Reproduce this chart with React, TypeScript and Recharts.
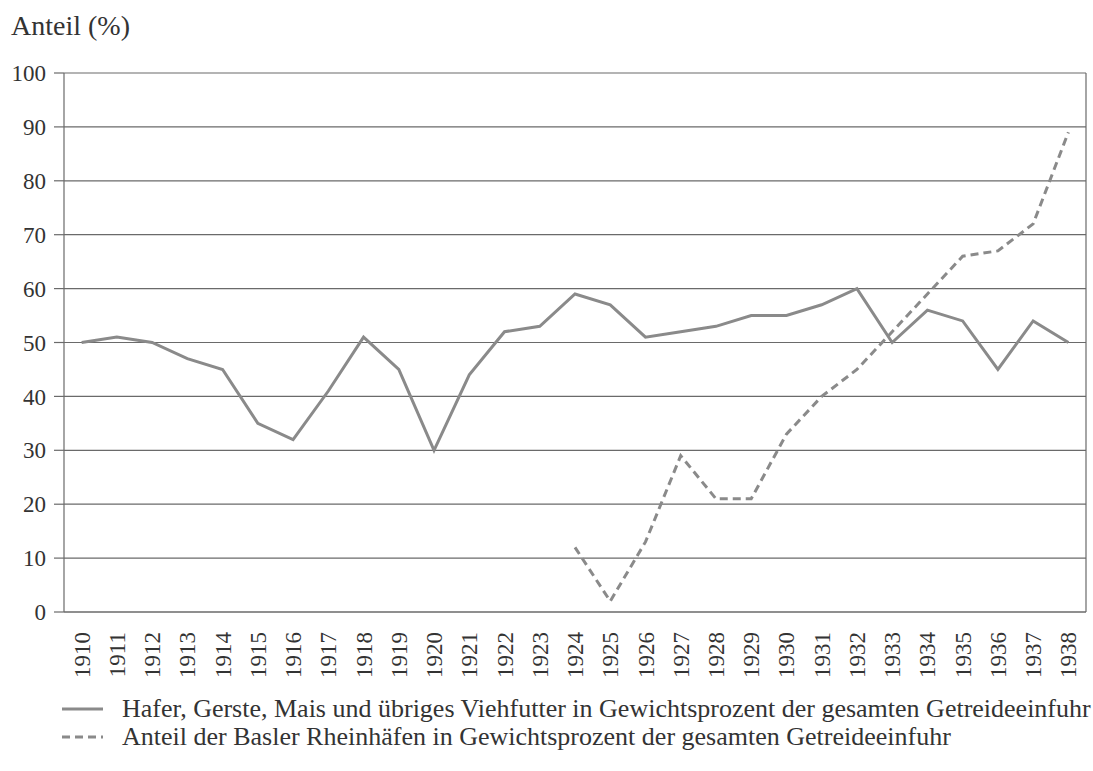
import React from "react";
import { LineChart, Line, XAxis, YAxis, CartesianGrid, ReferenceLine } from "recharts";

const years = [1910, 1911, 1912, 1913, 1914, 1915, 1916, 1917, 1918, 1919, 1920, 1921, 1922, 1923, 1924, 1925, 1926, 1927, 1928, 1929, 1930, 1931, 1932, 1933, 1934, 1935, 1936, 1937, 1938];
const futter = [50, 51, 50, 47, 45, 35, 32, 41, 51, 45, 30, 44, 52, 53, 59, 57, 51, 52, 53, 55, 55, 57, 60, 50, 56, 54, 45, 54, 50];
const basel = [null, null, null, null, null, null, null, null, null, null, null, null, null, null, 12, 2, 13, 29, 21, 21, 33, 40, 45, 52, 59, 66, 67, 72, 89];
const boundaryTicks = [1909.5, 1910.5, 1911.5, 1912.5, 1913.5, 1914.5, 1915.5, 1916.5, 1917.5, 1918.5, 1919.5, 1920.5, 1921.5, 1922.5, 1923.5, 1924.5, 1925.5, 1926.5, 1927.5, 1928.5, 1929.5, 1930.5, 1931.5, 1932.5, 1933.5, 1934.5, 1935.5, 1936.5, 1937.5, 1938.5];
const yTicks = [0, 10, 20, 30, 40, 50, 60, 70, 80, 90, 100];
const titleText = "Anteil (%)";
const legendFutter = "Hafer, Gerste, Mais und übriges Viehfutter in Gewichtsprozent der gesamten Getreideeinfuhr";
const legendBasel = "Anteil der Basler Rheinhäfen in Gewichtsprozent der gesamten Getreideeinfuhr";

const data = years.map((y, i) => ({ year: y, futter: futter[i], basel: basel[i] }));

const FONT = "Liberation Serif";
const TEXT = "#333333";
const LINE = "#8a8a8a";
const GRID = "#6a6a6a";

const YearTick = (props: any) => {
  const { x, y, payload } = props;
  return (
    <text
      x={x}
      y={y}
      transform={`rotate(-90, ${x}, ${y})`}
      textAnchor="end"
      dy="0.35em"
      style={{ fontFamily: FONT, fontSize: 23 }}
      fill={TEXT}
    >
      {payload.value}
    </text>
  );
};

export default function App() {
  return (
    <div style={{ position: "absolute", left: 0, top: 0, width: 1093, height: 771, background: "#fff" }}>
      <LineChart
        width={1093}
        height={771}
        data={data}
        margin={{ top: 73, right: 7, bottom: 87, left: 0 }}
      >
        <CartesianGrid vertical={false} stroke={GRID} strokeWidth={1.2} />
        <XAxis
          xAxisId="a"
          dataKey="year"
          type="number"
          domain={[1909.5, 1938.5]}
          ticks={boundaryTicks}
          interval={0}
          tick={false}
          tickSize={10}
          height={12}
          stroke={GRID}
          axisLine={{ stroke: GRID, strokeWidth: 1.2 }}
          tickLine={{ stroke: GRID, strokeWidth: 1.2 }}
        />
        <XAxis
          xAxisId="b"
          dataKey="year"
          type="number"
          domain={[1909.5, 1938.5]}
          ticks={years}
          interval={0}
          axisLine={false}
          tickLine={false}
          tickSize={0}
          tickMargin={8}
          height={60}
          tick={<YearTick />}
        />
        <YAxis
          domain={[0, 100]}
          ticks={yTicks}
          interval={0}
          width={64}
          tickSize={10}
          tickMargin={8}
          axisLine={{ stroke: GRID, strokeWidth: 1.2 }}
          tickLine={{ stroke: GRID, strokeWidth: 1.2 }}
          tick={{ style: { fontFamily: FONT, fontSize: 23 }, fill: TEXT }}
        />
        <ReferenceLine xAxisId="a" x={1938.5} stroke={GRID} strokeWidth={1.2} />
        <Line
          xAxisId="a"
          dataKey="futter"
          type="linear"
          stroke={LINE}
          strokeWidth={3}
          dot={false}
          activeDot={false}
          isAnimationActive={false}
        />
        <Line
          xAxisId="b"
          dataKey="basel"
          type="linear"
          stroke={LINE}
          strokeWidth={3}
          strokeDasharray="8 5"
          dot={false}
          activeDot={false}
          isAnimationActive={false}
        />
      </LineChart>
      <svg
        width={1093}
        height={771}
        style={{ position: "absolute", left: 0, top: 0, pointerEvents: "none" }}
      >
        <text x={11} y={35} style={{ fontFamily: FONT, fontSize: 28 }} fill={TEXT}>
          {titleText}
        </text>
        <line x1={62} y1={709} x2={103} y2={709} stroke={LINE} strokeWidth={3} />
        <text x={122} y={717} style={{ fontFamily: FONT, fontSize: 26 }} fill={TEXT}>
          {legendFutter}
        </text>
        <line x1={62} y1={737} x2={103} y2={737} stroke={LINE} strokeWidth={3} strokeDasharray="8 5" />
        <text x={122} y={745} style={{ fontFamily: FONT, fontSize: 26 }} fill={TEXT}>
          {legendBasel}
        </text>
      </svg>
    </div>
  );
}
